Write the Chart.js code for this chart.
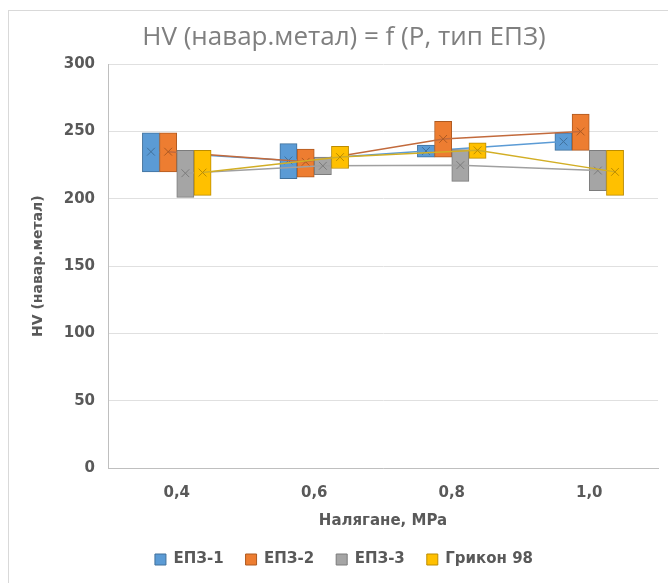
<!DOCTYPE html>
<html lang="bg">
<head>
<meta charset="UTF-8">
<title>HV (навар.метал) = f (P, тип ЕПЗ)</title>
<script src="https://cdn.jsdelivr.net/npm/chart.js"></script>
<style>
  html, body { margin: 0; padding: 0; background: #fff; }
  #wrap { position: relative; width: 668px; height: 583px; overflow: hidden; }
  #frame { position: absolute; left: 8px; top: 10px; width: 700px; height: 620px;
           border-left: 1px solid #d9d9d9; border-top: 1px solid #d9d9d9; }
  canvas { position: absolute; left: 0; top: 0; }
</style>
</head>
<body>
<div id="wrap">
  <div id="frame"></div>
  <canvas id="chart" width="668" height="583"></canvas>
</div>
<script>
// categories and series
const pressures = ['0,4', '0,6', '0,8', '1,0'];
const seriesNames = ['ЕПЗ-1', 'ЕПЗ-2', 'ЕПЗ-3', 'Грикон 98'];
const yTicks = [0, 50, 100, 150, 200, 250, 300];

// box bottom / box top / mean
const epz1Low  = [220, 215, 231, 236];
const epz1High = [249, 241, 240, 249];
const epz1Mean = [235, 228.5, 235.5, 242.5];

const epz2Low  = [220, 216, 231, 236];
const epz2High = [249, 237, 257.5, 263];
const epz2Mean = [235, 227.5, 244.5, 250];

const epz3Low  = [201, 218, 213, 206];
const epz3High = [236, 231, 236.5, 236];
const epz3Mean = [219, 224.5, 225, 221];

const grikonLow  = [202.5, 222.5, 230, 202.5];
const grikonHigh = [236, 239, 241.5, 236];
const grikonMean = [219.5, 231, 236, 220];

const lows  = [epz1Low, epz2Low, epz3Low, grikonLow];
const highs = [epz1High, epz2High, epz3High, grikonHigh];
const means = [epz1Mean, epz2Mean, epz3Mean, grikonMean];

const fills = ['#5B9BD5', '#ED7D31', '#A5A5A5', '#FFC000'];
const edges = ['#41719C', '#AE5A21', '#7C7C7C', '#BC8C00'];
const lineColors = ['#5B9BD5', '#C26A3C', '#A0A0A0', '#D2AE25'];

const textColor = '#595959';
const groupShare = 0.5;   // part of a category taken by the 4 boxes
const slot = groupShare / seriesNames.length;

// where series s sits inside category i (in category units)
const boxX = (s, i) => i + (s - (seriesNames.length - 1) / 2) * slot;

Chart.defaults.font.family = '"DejaVu Sans", sans-serif';
Chart.defaults.color = textColor;

const datasets = [];
seriesNames.forEach((name, s) => {
  datasets.push({
    type: 'bar',
    label: name,
    xAxisID: 'x2',
    grouped: false,
    data: lows[s].map((lo, i) => ({ x: boxX(s, i), y: [lo, highs[s][i]] })),
    backgroundColor: fills[s],
    borderColor: edges[s],
    borderWidth: 1,
    borderSkipped: false,
    categoryPercentage: 1,
    barPercentage: 1,
    order: 8 - 2 * s
  });
  // mean line through the centre of this series' boxes
  datasets.push({
    type: 'line',
    label: name + ' (средно)',
    xAxisID: 'x2',
    data: means[s].map((m, i) => ({ x: boxX(s, i), y: m })),
    borderColor: lineColors[s],
    borderWidth: 1.5,
    pointStyle: 'crossRot',
    pointRadius: 5.5,
    pointBorderColor: edges[s],
    pointBorderWidth: 1,
    fill: false,
    order: 7 - 2 * s
  });
});

new Chart(document.getElementById('chart'), {
  type: 'bar',
  data: { labels: pressures, datasets: datasets },
  options: {
    responsive: false,
    animation: false,
    layout: { padding: { left: 30, right: 10, top: 0, bottom: 6 } },
    plugins: {
      title: {
        display: true,
        text: 'HV (навар.метал) = f (P, тип ЕПЗ)',
        color: '#7f7f7f',
        font: { family: '"Open Sans", sans-serif', size: 26, weight: 'normal' },
        padding: { top: 22, bottom: 11 }
      },
      legend: {
        position: 'bottom',
        labels: {
          boxWidth: 11,
          boxHeight: 11,
          padding: 22,
          color: textColor,
          font: { size: 15, weight: 'bold' },
          filter: item => item.datasetIndex % 2 === 0,
          sort: (a, b) => a.datasetIndex - b.datasetIndex
        }
      },
      tooltip: { enabled: false }
    },
    scales: {
      x: {
        type: 'category',
        offset: true,
        grid: { display: false, drawTicks: false },
        border: { display: true, color: '#bfbfbf' },
        ticks: { padding: 16, font: { size: 15, weight: 'bold' }, color: textColor },
        title: {
          display: true,
          text: 'Налягане, MPa',
          color: textColor,
          font: { size: 15, weight: 'bold' },
          padding: { top: 0, bottom: 0 }
        },
        afterFit: s => { s.height = 62; }
      },
      x2: {
        type: 'linear',
        display: false,
        offset: false,
        grid: { offset: false },
        min: -0.5,
        max: pressures.length - 0.5
      },
      y: {
        min: 0,
        max: 300,
        grid: { color: '#e0e0e0', drawTicks: false },
        border: { display: true, color: '#bfbfbf' },
        ticks: { padding: 13, font: { size: 15, weight: 'bold' }, color: textColor },
        afterBuildTicks: s => { s.ticks = yTicks.map(v => ({ value: v })); },
        title: {
          display: true,
          text: 'HV (навар.метал)',
          color: textColor,
          font: { size: 14, weight: 'bold' },
          padding: { top: 0, bottom: 0 }
        },
        afterFit: s => { s.width = 78; }
      }
    }
  }
});
</script>
</body>
</html>
